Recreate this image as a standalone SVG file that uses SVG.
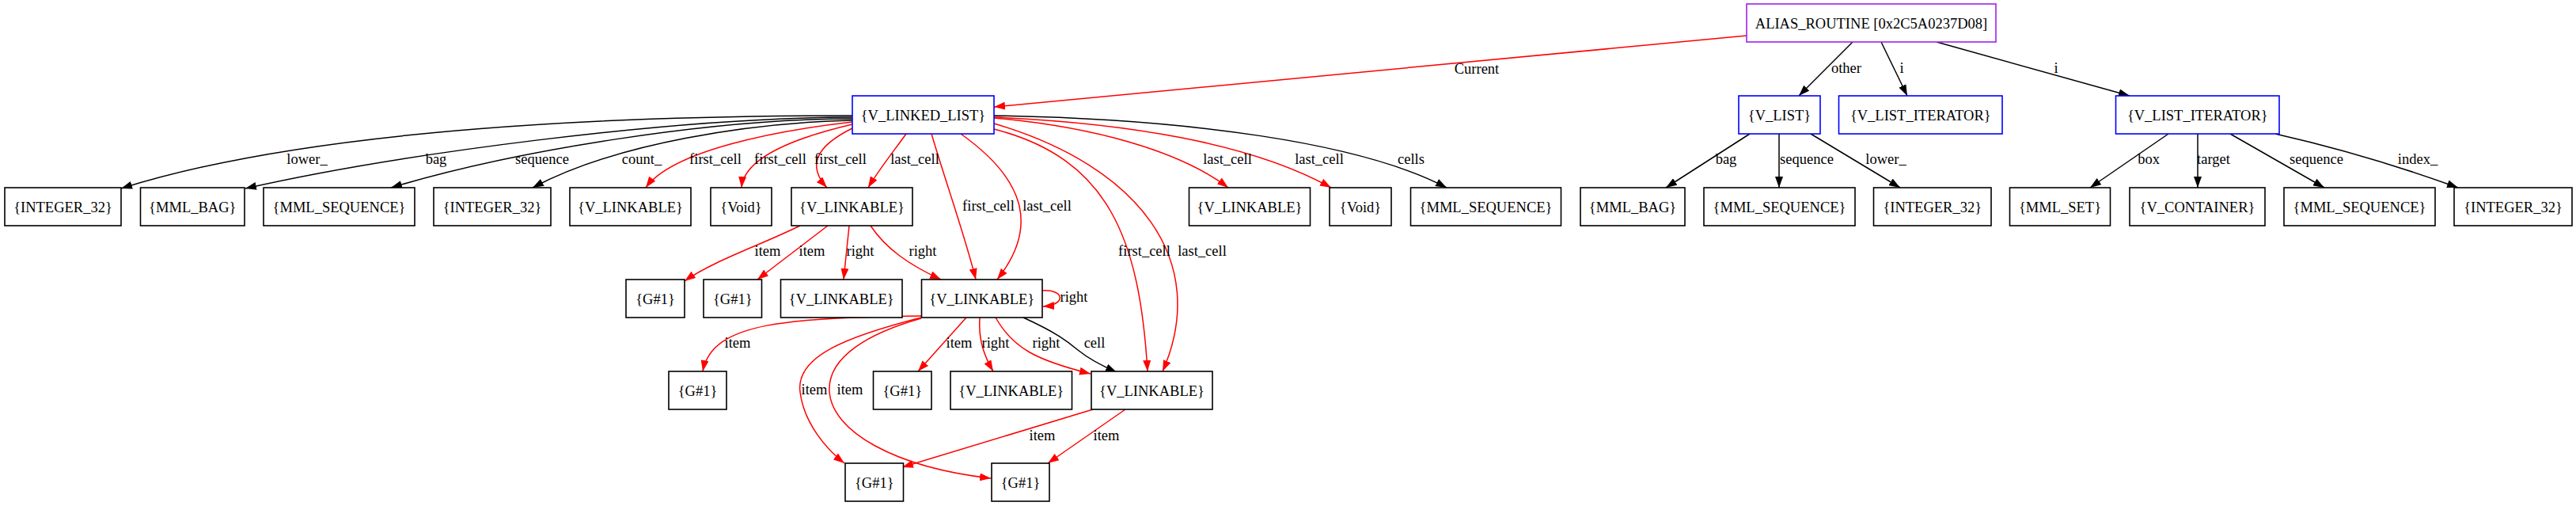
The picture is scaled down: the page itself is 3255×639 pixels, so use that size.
<svg xmlns="http://www.w3.org/2000/svg" width="3255" height="639" viewBox="0 0 3255 639">
<style>
text{font-family:"Liberation Serif","Times New Roman",serif;font-size:18.5px;fill:#000;text-anchor:middle}
.n rect{fill:#fff;stroke:#000;stroke-width:1.6}
.n.b rect{stroke:#0000ff}
.n.p rect{stroke:#a020f0}
.e path{fill:none;stroke-width:1.5}
.e .k{stroke:#000;marker-end:url(#ak)}
.e .r{stroke:#ff0000;marker-end:url(#ar)}
</style>
<defs>
<marker id="ak" viewBox="0 0 14 10" refX="14" refY="5" markerWidth="14" markerHeight="10" markerUnits="userSpaceOnUse" orient="auto"><path d="M0,0 L14,5 L0,10 z" fill="#000"/></marker>
<marker id="ar" viewBox="0 0 14 10" refX="14" refY="5" markerWidth="14" markerHeight="10" markerUnits="userSpaceOnUse" orient="auto"><path d="M0,0 L14,5 L0,10 z" fill="#ff0000"/></marker>
</defs>
<rect width="3255" height="639" fill="#fff"/>
<g id="edges" class="e">
<path class="r" d="M2207,45 L1256,135"/>
<path class="k" d="M2341,53 L2273,121"/>
<path class="k" d="M2377,53 L2410,121"/>
<path class="k" d="M2447,53 L2691,121"/>
<path class="k" d="M2211,169 L2105,237"/>
<path class="k" d="M2248,169 L2248,237"/>
<path class="k" d="M2288,169 L2401,237"/>
<path class="k" d="M2740,169 L2641,237"/>
<path class="k" d="M2777,169 L2777,237"/>
<path class="k" d="M2818,169 L2937,237"/>
<path class="k" d="M2875,169 Q2990,195 3106,237"/>
<path class="k" d="M1077,146 C800,146 400,160 153,238"/>
<path class="k" d="M1077,148 C850,148 500,195 310,238"/>
<path class="k" d="M1077,150 C900,150 650,190 494,237"/>
<path class="k" d="M1077,152 C950,155 780,180 673,237"/>
<path class="r" d="M1077,154 C980,165 850,190 816,237"/>
<path class="r" d="M1077,157 C1000,175 940,200 937,237"/>
<path class="r" d="M1077,162 C1030,185 1020,210 1045,237"/>
<path class="r" d="M1145,169 C1130,190 1110,215 1097,237"/>
<path class="r" d="M1177,169 C1195,230 1220,300 1233,353"/>
<path class="r" d="M1214,169 C1300,230 1310,290 1260,353"/>
<path class="r" d="M1256,163 C1400,200 1440,300 1450,469"/>
<path class="r" d="M1256,156 C1440,210 1530,330 1469,469"/>
<path class="r" d="M1256,149 C1380,160 1490,190 1552,237"/>
<path class="r" d="M1256,148 C1420,155 1580,180 1682,237"/>
<path class="k" d="M1256,146 C1500,150 1720,180 1828,237"/>
<path class="r" d="M1011,285 C960,310 900,330 865,355"/>
<path class="r" d="M1046,285 L957,353"/>
<path class="r" d="M1073,285 L1066,353"/>
<path class="r" d="M1100,285 C1120,315 1150,335 1189,353"/>
<path class="r" d="M1317,367 C1345,365 1348,385 1318,387"/>
<path class="r" d="M1164,399 C1000,402 900,405 888,469"/>
<path class="r" d="M1164,401 C1070,425 1005,450 1011,495 C1016,535 1045,568 1067,585"/>
<path class="r" d="M1164,402 C1100,420 1045,450 1048,495 C1052,545 1130,590 1252,604"/>
<path class="r" d="M1221,401 L1160,469"/>
<path class="r" d="M1238,401 C1236,430 1244,450 1255,469"/>
<path class="r" d="M1258,401 C1280,440 1310,455 1378,472"/>
<path class="k" d="M1293,401 C1335,420 1350,432 1362,442 C1378,455 1395,463 1411,470"/>
<path class="r" d="M1381,517 L1140,590"/>
<path class="r" d="M1422,517 L1324,585"/>
<text x="1866" y="93">Current</text>
<text x="2333" y="92">other</text>
<text x="2403" y="92">i</text>
<text x="2598" y="92">i</text>
<text x="2181" y="207">bag</text>
<text x="2283" y="207">sequence</text>
<text x="2383" y="207">lower_</text>
<text x="2715" y="207">box</text>
<text x="2797" y="207">target</text>
<text x="2927" y="207">sequence</text>
<text x="3055" y="207">index_</text>
<text x="388" y="207">lower_</text>
<text x="551" y="207">bag</text>
<text x="685" y="207">sequence</text>
<text x="811" y="207">count_</text>
<text x="904" y="207">first_cell</text>
<text x="986" y="207">first_cell</text>
<text x="1062" y="207">first_cell</text>
<text x="1156" y="207">last_cell</text>
<text x="1551" y="207">last_cell</text>
<text x="1667" y="207">last_cell</text>
<text x="1783" y="207">cells</text>
<text x="1249" y="266">first_cell</text>
<text x="1323" y="266">last_cell</text>
<text x="970" y="323">item</text>
<text x="1026" y="323">item</text>
<text x="1087" y="323">right</text>
<text x="1166" y="323">right</text>
<text x="1446" y="323">first_cell</text>
<text x="1519" y="323">last_cell</text>
<text x="1357" y="381">right</text>
<text x="932" y="439">item</text>
<text x="1212" y="439">item</text>
<text x="1258" y="439">right</text>
<text x="1322" y="439">right</text>
<text x="1383" y="439">cell</text>
<text x="1029" y="498">item</text>
<text x="1074" y="498">item</text>
<text x="1317" y="556">item</text>
<text x="1398" y="556">item</text>
</g>
<g id="alias" class="n p"><rect x="2207" y="5" width="315" height="48"/><text x="2364.5" y="36">ALIAS_ROUTINE [0x2C5A0237D08]</text></g>
<g id="linked_list" class="n b"><rect x="1077" y="121" width="179" height="48"/><text x="1166.5" y="152">{V_LINKED_LIST}</text></g>
<g id="v_list" class="n b"><rect x="2197" y="121" width="103" height="48"/><text x="2248.5" y="152">{V_LIST}</text></g>
<g id="v_list_iter1" class="n b"><rect x="2323.5" y="121" width="206.5" height="48"/><text x="2426.75" y="152">{V_LIST_ITERATOR}</text></g>
<g id="v_list_iter2" class="n b"><rect x="2673.5" y="121" width="206.5" height="48"/><text x="2776.75" y="152">{V_LIST_ITERATOR}</text></g>
<g id="int1" class="n"><rect x="6" y="237" width="147" height="48"/><text x="79.5" y="268">{INTEGER_32}</text></g>
<g id="bag1" class="n"><rect x="177.5" y="237" width="131.5" height="48"/><text x="243.25" y="268">{MML_BAG}</text></g>
<g id="seq1" class="n"><rect x="333" y="237" width="191" height="48"/><text x="428.5" y="268">{MML_SEQUENCE}</text></g>
<g id="int2" class="n"><rect x="548" y="237" width="148" height="48"/><text x="622" y="268">{INTEGER_32}</text></g>
<g id="lnk1" class="n"><rect x="720" y="237" width="153" height="48"/><text x="796.5" y="268">{V_LINKABLE}</text></g>
<g id="void1" class="n"><rect x="898" y="237" width="77" height="48"/><text x="936.5" y="268">{Void}</text></g>
<g id="lnkL1" class="n"><rect x="1000" y="237" width="153" height="48"/><text x="1076.5" y="268">{V_LINKABLE}</text></g>
<g id="lnk2" class="n"><rect x="1502.5" y="237" width="153" height="48"/><text x="1579" y="268">{V_LINKABLE}</text></g>
<g id="void2" class="n"><rect x="1680" y="237" width="78" height="48"/><text x="1719" y="268">{Void}</text></g>
<g id="seq2" class="n"><rect x="1782.5" y="237" width="190" height="48"/><text x="1877.5" y="268">{MML_SEQUENCE}</text></g>
<g id="bag2" class="n"><rect x="1997" y="237" width="132" height="48"/><text x="2063" y="268">{MML_BAG}</text></g>
<g id="seq3" class="n"><rect x="2153" y="237" width="191" height="48"/><text x="2248.5" y="268">{MML_SEQUENCE}</text></g>
<g id="int3" class="n"><rect x="2367.5" y="237" width="148.5" height="48"/><text x="2441.75" y="268">{INTEGER_32}</text></g>
<g id="set1" class="n"><rect x="2539.5" y="237" width="127" height="48"/><text x="2603" y="268">{MML_SET}</text></g>
<g id="cont1" class="n"><rect x="2691" y="237" width="171" height="48"/><text x="2776.5" y="268">{V_CONTAINER}</text></g>
<g id="seq4" class="n"><rect x="2886" y="237" width="191" height="48"/><text x="2981.5" y="268">{MML_SEQUENCE}</text></g>
<g id="int4" class="n"><rect x="3101" y="237" width="149" height="48"/><text x="3175.5" y="268">{INTEGER_32}</text></g>
<g id="g1" class="n"><rect x="791" y="353" width="74" height="48"/><text x="828" y="384">{G#1}</text></g>
<g id="g2" class="n"><rect x="889" y="353" width="73.5" height="48"/><text x="925.75" y="384">{G#1}</text></g>
<g id="lnk3" class="n"><rect x="986.5" y="353" width="153.5" height="48"/><text x="1063.25" y="384">{V_LINKABLE}</text></g>
<g id="lnkL2" class="n"><rect x="1164.5" y="353" width="152.5" height="48"/><text x="1240.75" y="384">{V_LINKABLE}</text></g>
<g id="g3" class="n"><rect x="845" y="469" width="73" height="48"/><text x="881.5" y="500">{G#1}</text></g>
<g id="g4" class="n"><rect x="1103.5" y="469" width="73.5" height="48"/><text x="1140.25" y="500">{G#1}</text></g>
<g id="lnk4" class="n"><rect x="1201" y="469" width="153.5" height="48"/><text x="1277.75" y="500">{V_LINKABLE}</text></g>
<g id="lnkL3" class="n"><rect x="1379" y="469" width="153" height="48"/><text x="1455.5" y="500">{V_LINKABLE}</text></g>
<g id="g5" class="n"><rect x="1068" y="585" width="73.5" height="48"/><text x="1104.75" y="616">{G#1}</text></g>
<g id="g6" class="n"><rect x="1253" y="585" width="73" height="48"/><text x="1289.5" y="616">{G#1}</text></g>
</svg>
